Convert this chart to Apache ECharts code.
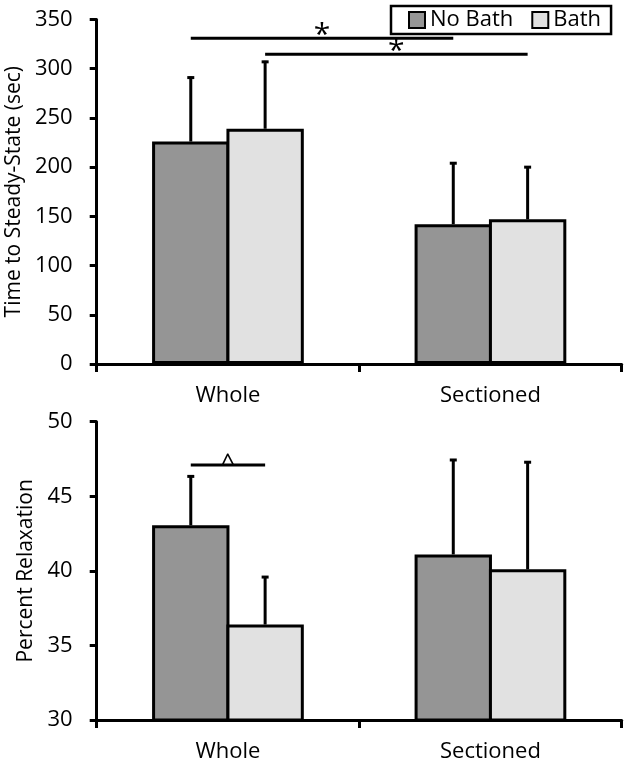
<!DOCTYPE html>
<html>
<head>
<meta charset="utf-8">
<script src="https://cdn.jsdelivr.net/npm/echarts@6/dist/echarts.min.js"></script>
<style>
html,body{margin:0;padding:0;background:#fff;}
#chart{width:629px;height:765px;}
</style>
</head>
<body>
<div id="chart"></div>
<script>
const categories = ['Whole', 'Sectioned'];
const seriesNames = ['No Bath', 'Bath'];
// Top panel: Time to Steady-State (sec)
const topNoBath = [226, 142];
const topBath = [239, 147];
const topNoBathUpper = [292, 205];
const topBathUpper = [308, 201];
const topTicks = [0, 50, 100, 150, 200, 250, 300, 350];
// Bottom panel: Percent Relaxation
const botNoBath = [43.05, 41.1];
const botBath = [36.4, 40.1];
const botNoBathUpper = [46.4, 47.5];
const botBathUpper = [39.65, 47.35];
const botTicks = [30, 35, 40, 45, 50];
// Significance markers: [catA, seriesA, catB, seriesB, y, label]
const topSig = [[0, 0, 1, 0, 331, '*'], [0, 1, 1, 1, 314.7, '*']];
const botSig = [[0, 0, 0, 1, 47.1, '^']];

const colors = ['#959595', '#e1e1e1'];
const FONT = 'Open Sans';
const GAP = 0.422;
const BARGAP = -0.039;

function barOffset(api, s) {
  const catW = api.size([1, 0])[0];
  const span = catW * (1 - GAP);
  const bw = span / (2 + BARGAP);
  const off = (span - bw) / 2;
  return s === 0 ? -off : off;
}

function errorSeries(idx, means, uppers, s) {
  return {
    type: 'custom', xAxisIndex: idx, yAxisIndex: idx, z: 5,
    data: categories.map((c, i) => [i, means[i], uppers[i], s]),
    renderItem: function (params, api) {
      const cat = api.value(0);
      const p0 = api.coord([cat, api.value(1)]);
      const p1 = api.coord([cat, api.value(2)]);
      const x = p0[0] + barOffset(api, api.value(3));
      return {
        type: 'group',
        children: [
          { type: 'line', shape: { x1: x, y1: p0[1], x2: x, y2: p1[1] }, style: { stroke: '#000', lineWidth: 3 } },
          { type: 'line', shape: { x1: x - 3.5, y1: p1[1] + 1, x2: x + 3.5, y2: p1[1] + 1 }, style: { stroke: '#000', lineWidth: 3 } }
        ]
      };
    }
  };
}

function sigSeries(idx, data, fontSize, dy, weight) {
  return {
    type: 'custom', xAxisIndex: idx, yAxisIndex: idx, z: 6,
    data: data,
    renderItem: function (params, api) {
      const d = data[params.dataIndex];
      const a = api.coord([d[0], d[4]]);
      const b = api.coord([d[2], d[4]]);
      const xa = a[0] + barOffset(api, d[1]);
      const xb = b[0] + barOffset(api, d[3]);
      return {
        type: 'group',
        children: [
          { type: 'line', shape: { x1: xa, y1: a[1], x2: xb, y2: a[1] }, style: { stroke: '#000', lineWidth: 3 } },
          { type: 'text', x: (xa + xb) / 2, y: a[1] + dy, style: { text: d[5], fill: '#000', font: weight + ' ' + fontSize + 'px "' + FONT + '"', textAlign: 'center', textVerticalAlign: 'middle' } }
        ]
      };
    }
  };
}

const axisLineStyle = { color: '#000', width: 3 };

function xAxis(idx) {
  return {
    type: 'category', gridIndex: idx, data: categories,
    axisLine: { lineStyle: axisLineStyle },
    axisTick: { show: true, length: 8, lineStyle: axisLineStyle },
    axisLabel: { color: '#000', fontFamily: FONT, fontSize: 22, margin: 21 },
    splitLine: { show: false }
  };
}
function yAxis(idx, ticks, name, gap) {
  return {
    type: 'value', gridIndex: idx, min: ticks[0], max: ticks[ticks.length - 1],
    interval: ticks[1] - ticks[0],
    name: name, nameLocation: 'middle', nameGap: gap,
    nameTextStyle: { color: '#000', fontFamily: FONT, fontSize: 21 },
    axisLine: { show: true, lineStyle: axisLineStyle },
    axisTick: { show: true, length: 7, lineStyle: axisLineStyle },
    axisLabel: { color: '#000', fontFamily: FONT, fontSize: 22, margin: 24 },
    splitLine: { show: false }
  };
}

function barSeries(idx, name, data, color) {
  return {
    type: 'bar', name: name, xAxisIndex: idx, yAxisIndex: idx,
    data: data, barGap: (BARGAP * 100) + '%', barCategoryGap: (GAP * 100) + '%',
    itemStyle: { color: color, borderColor: '#000', borderWidth: 3 },
    emphasis: { disabled: true }
  };
}

const chart = echarts.init(document.getElementById('chart'), null, { renderer: 'canvas' });
chart.setOption({
  animation: false,
  backgroundColor: '#fff',
  legend: {
    data: seriesNames,
    left: 391, top: 6,
    padding: [3, 10, 3, 17],
    itemGap: 18, itemWidth: 16, itemHeight: 16,
    icon: 'rect',
    borderColor: '#000', borderWidth: 2.5,
    textStyle: { color: '#000', fontFamily: FONT, fontSize: 22, lineHeight: 22 }
  },
  grid: [
    { left: 96.7, right: 7.3, top: 19.5, height: 344.5, containLabel: false, outerBoundsMode: 'none' },
    { left: 96.7, right: 7.3, top: 421.7, height: 298.3, containLabel: false, outerBoundsMode: 'none' }
  ],
  xAxis: [xAxis(0), xAxis(1)],
  yAxis: [yAxis(0, topTicks, 'Time to Steady-State (sec)', 68), yAxis(1, botTicks, 'Percent Relaxation', 59)],
  series: [
    barSeries(0, seriesNames[0], topNoBath, colors[0]),
    barSeries(0, seriesNames[1], topBath, colors[1]),
    barSeries(1, seriesNames[0], botNoBath, colors[0]),
    barSeries(1, seriesNames[1], botBath, colors[1]),
    errorSeries(0, topNoBath, topNoBathUpper, 0),
    errorSeries(0, topBath, topBathUpper, 1),
    errorSeries(1, botNoBath, botNoBathUpper, 0),
    errorSeries(1, botBath, botBathUpper, 1),
    sigSeries(0, topSig, 30, -3, 'normal'),
    sigSeries(1, botSig, 26, 0, 'normal')
  ]
});
</script>
</body>
</html>
